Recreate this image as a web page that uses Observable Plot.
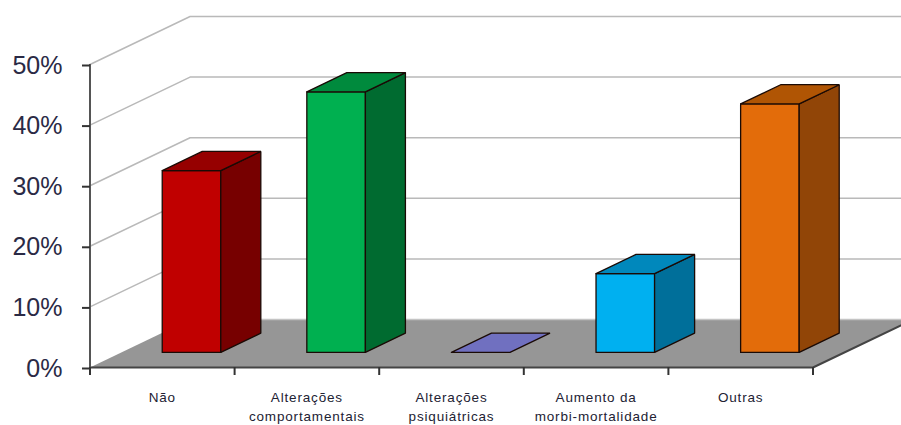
<!DOCTYPE html>
<html lang="pt">
<head>
<meta charset="utf-8">
<script src="https://cdn.jsdelivr.net/npm/d3@7"></script>
<script src="https://cdn.jsdelivr.net/npm/@observablehq/plot@0.6"></script>
<style>
  html, body { margin: 0; padding: 0; background: #fff; }
  .categorias text { letter-spacing: 0.83px; }
</style>
</head>
<body>
<div id="chart"></div>
<script>
// Respostas por categoria, em percentagem
const categories = ["Não", "Alterações\ncomportamentais", "Alterações\npsiquiátricas", "Aumento da\nmorbi-mortalidade", "Outras"];
const values = [30, 43, 0, 13, 41];
const frontColors = ["#c00000", "#00b050", "#7070c0", "#00b0f0", "#e36c0a"];
const sideColors = ["#770000", "#006b30", "#7070c0", "#006f9a", "#914507"];
const topColors = ["#960000", "#008a3d", "#7070c0", "#0088bc", "#b05504"];
const gridValues = [10, 20, 30, 40, 50];
const yTicks = [0, 10, 20, 30, 40, 50];
const xTicks = [0, 1, 2, 3, 4, 5];

// Oblique projection: depth runs from 0 (front of the floor) to 1 (back wall)
const depthX = 0.692;   // category widths
const depthY = 7.92;    // percentage points
const barHalf = 0.2025; // half the bar width, in category widths
const barFront = 0.315;
const barBack = 0.715;
const barCentre = 0.484; // bar centre within its category slot
const at = (c, v, d) => ({x: c + d * depthX, y: v + d * depthY});

function polygon(id, fill, corners) {
  const pts = [...corners, corners[0]];
  return pts.map(([c, v, d]) => ({id, fill, ...at(c, v, d)}));
}

const floor = polygon("chao", "#969696", [[0, 0, 0], [5, 0, 0], [5, 0, 1], [0, 0, 1]]);

const walls = gridValues.flatMap((v) => [
  {id: v, ...at(0, v, 0)},
  {id: v, ...at(0, v, 1)},
  {id: v, ...at(5, v, 1)}
]);

const floorEdge = [at(0, 0, 1), at(5, 0, 1)].map((p) => ({id: "fundo", ...p}));
const floorFront = [at(0, 0, 0), at(5, 0, 0), at(5, 0, 1)];

// Each bar gets a front, a side and a top face, sharing its value
const faces = values.flatMap((v, i) => {
  const c = i + barCentre;
  const l = c - barHalf, r = c + barHalf;
  const out = [];
  if (v > 0) {
    out.push(...polygon(`f${i}`, frontColors[i], [[l, 0, barFront], [r, 0, barFront], [r, v, barFront], [l, v, barFront]]));
    out.push(...polygon(`s${i}`, sideColors[i], [[r, 0, barFront], [r, 0, barBack], [r, v, barBack], [r, v, barFront]]));
  }
  out.push(...polygon(`t${i}`, topColors[i], [[l, v, barFront], [r, v, barFront], [r, v, barBack], [l, v, barBack]]));
  return out;
});

const plot = Plot.plot({
  width: 901,
  height: 425,
  marginLeft: 89.5,
  marginRight: 88.5,
  marginTop: 64,
  marginBottom: 58,
  x: {domain: [0, 5]},
  y: {domain: [0, 50]},
  color: {type: "identity"},
  style: {background: "#fff"},
  marks: [
    Plot.line(walls, {x: "x", y: "y", z: "id", stroke: "#b9b9b9", strokeWidth: 1.5, curve: "linear"}),
    Plot.line(floor, {x: "x", y: "y", z: "id", fill: "fill", stroke: "none"}),
    Plot.line(floorEdge, {x: "x", y: "y", z: "id", stroke: "#c4c4c4", strokeWidth: 1.5}),
    Plot.line(faces, {x: "x", y: "y", z: "id", fill: "fill", stroke: "#1a0a05", strokeWidth: 1.3, strokeLinejoin: "miter"}),
    Plot.line(floorFront, {x: "x", y: "y", stroke: "#444", strokeWidth: 2}),
    Plot.ruleX([0], {y1: 0, y2: 50, stroke: "#555", strokeWidth: 2}),
    Plot.axisY(yTicks, {
      anchor: "left",
      tickSize: 8,
      tickPadding: 20,
      tickFormat: (d) => `${d}%`,
      fontSize: 25,
      fontFamily: "Liberation Sans, Arial, sans-serif",
      stroke: "#333",
      color: "#2a2a45",
      strokeWidth: 2,
      dy: 1,
      dx: 0.5,
      label: null
    }),
    Plot.axisX(xTicks, {anchor: "bottom", tickSize: 8, tickFormat: () => "", stroke: "#333", strokeWidth: 2, label: null}),
    Plot.text(categories, {
      x: (d, i) => i + 0.5,
      y: () => 0,
      text: (d) => d,
      dy: 21,
      lineAnchor: "top",
      lineHeight: 1.41,
      fontSize: 13.5,
      fontFamily: "Liberation Sans, Arial, sans-serif",
      fill: "#222233",
      className: "categorias"
    })
  ]
});
document.getElementById("chart").appendChild(plot);
</script>
</body>
</html>
